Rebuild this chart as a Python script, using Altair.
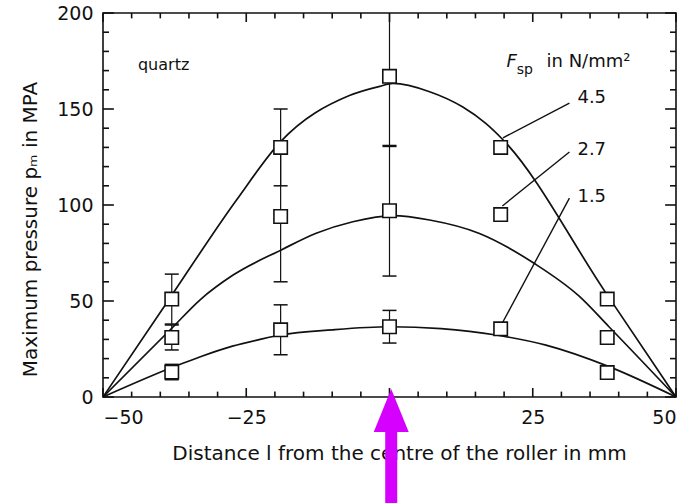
import altair as alt
import pandas as pd

# Measurement positions along the roller (mm) and mean maximum pressure (MPa)
x_meas = [-38, -19, 0, 19.4, 38]
p_45 = [51, 130, 167, 130, 51]
p_27 = [31, 94, 97, 95, 31]
p_15 = [13, 35, 36.6, 35.5, 12.7]
# half-width of the scatter band at each position (0 = no band drawn)
e_45 = [13, 20, 36.5, 0, 0]
e_27 = [6.5, 34, 34, 0, 0]
e_15 = [4, 13, 8.5, 0, 0]
series = ["4.5", "2.7", "1.5"]

# Hand-fitted pressure curves
c45_x = [-50, -38.9, -26.7, -19, -7, -1.7, 0.6, 7, 12.8, 16.8, 19.8, 37.7, 50]
c45_y = [0, 49, 102.6, 133, 157, 161.8, 163.3, 159, 151, 142.5, 134, 54.5, 0]
c27_x = [-50, -38, -33.1, -27.3, -18.9, -12.8, -6.4, 0.6, 7, 15.7, 25.3, 33.1, 38.3, 50]
c27_y = [0, 35.8, 50.5, 63.5, 76.6, 85.3, 91.3, 94.5, 92.2, 85.2, 69.5, 52.5, 36.6, 0]
c15_x = [-50, -37, -33, -27.4, -22.6, -19, -10, 0, 9, 18.6, 27.3, 38.3, 50]
c15_y = [0, 16.5, 21, 26.5, 30, 32.3, 35, 36.6, 35.6, 32.3, 27, 15.8, 0]

# Label leader lines (label end -> point) and label anchors
lead_x1 = [31.4, 31.4, 31.4]
lead_y1 = [153, 127.6, 103.6]
lead_x2 = [19.8, 19.7, 19.5]
lead_y2 = [135, 99.5, 37.5]
lab_x = [32.8, 32.8, 32.8]
lab_y = [155.7, 128.6, 104]

# Axis ticks (drawn pointing into the frame)
x_major = [-50, -25, 0, 25, 50]
x_minor = [-45, -40, -35, -30, -20, -15, -10, -5, 5, 10, 15, 20, 30, 35, 40, 45]
y_major = [0, 50, 100, 150, 200]
y_minor = [10, 20, 30, 40, 60, 70, 80, 90, 110, 120, 130, 140, 160, 170, 180, 190]

# Pointer arrow at the roller centre
arrow_x = [0.3]
arrow_head_y = [-7]
arrow_shaft_top = [-17]
arrow_shaft_bottom = [-62]

FONT = "DejaVu Sans"
INK = "#111111"
PINK = "#d600ff"
X0, X1, Y0, Y1 = -50, 50, 0, 200

# inward tick lengths in axis units (y: 1.92 px/unit, x: 5.73 px/unit)
XT_MAJ, XT_MIN = 4.7, 2.8
YT_MAJ, YT_MIN = 1.9, 1.05

pts = pd.DataFrame(
    [
        {"x": x, "p": p, "e": e, "series": s}
        for s, ps, es in zip(series, [p_45, p_27, p_15], [e_45, e_27, e_15])
        for x, p, e in zip(x_meas, ps, es)
    ]
)
bars = pts[pts["e"] > 0].copy()
bars["lo"] = bars["p"] - bars["e"]
bars["hi"] = bars["p"] + bars["e"]
caps = pd.concat(
    [bars[["x", "series"]].assign(y=bars["lo"]), bars[["x", "series"]].assign(y=bars["hi"])]
)
caps = caps[caps["y"] <= Y1]

curves = pd.DataFrame(
    [
        {"x": x, "y": y, "series": s}
        for s, xs_, ys_ in zip(series, [c45_x, c27_x, c15_x], [c45_y, c27_y, c15_y])
        for x, y in zip(xs_, ys_)
    ]
)
labels = pd.DataFrame({"x": lab_x, "y": lab_y, "t": series})
leads = pd.DataFrame({"x": lead_x1, "y": lead_y1, "x2": lead_x2, "y2": lead_y2})
arrow = pd.DataFrame(
    {"x": arrow_x, "hy": arrow_head_y, "y": arrow_shaft_top, "y2": arrow_shaft_bottom}
)

# frame ticks as two-point paths, one path per tick
tick_rows = []


def add_tick(key, p0, p1):
    tick_rows.append({"tid": key, "o": 0, "x": p0[0], "y": p0[1]})
    tick_rows.append({"tid": key, "o": 1, "x": p1[0], "y": p1[1]})


for v in x_major:
    add_tick(f"b{v}", (v, Y0), (v, Y0 + XT_MAJ))
    add_tick(f"t{v}", (v, Y1), (v, Y1 - XT_MAJ))
for v in x_minor:
    add_tick(f"b{v}", (v, Y0), (v, Y0 + XT_MIN))
    add_tick(f"t{v}", (v, Y1), (v, Y1 - XT_MIN))
for v in y_major:
    add_tick(f"l{v}", (X0, v), (X0 + YT_MAJ, v))
    add_tick(f"r{v}", (X1, v), (X1 - YT_MAJ, v))
for v in y_minor:
    add_tick(f"l{v}", (X0, v), (X0 + YT_MIN, v))
    add_tick(f"r{v}", (X1, v), (X1 - YT_MIN, v))
tick_paths = pd.DataFrame(tick_rows)

xs = alt.Scale(domain=[X0, X1], nice=False, zero=False)
ys = alt.Scale(domain=[Y0, Y1], nice=False, zero=False)
X = alt.X("x:Q", scale=xs, axis=None)
Y = alt.Y("y:Q", scale=ys, axis=None)

lines = alt.Chart(curves).mark_line(
    interpolate="monotone", color=INK, strokeWidth=1.7
).encode(
    x=alt.X("x:Q", scale=xs, axis=alt.Axis(
        orient="bottom", values=x_major, ticks=False, domain=False, grid=False,
        labelPadding=11, labelFontSize=19, labelFont=FONT, labelColor=INK,
        title="Distance l from the centre of the roller in mm",
        titleFont=FONT, titleFontSize=20, titleFontWeight="normal", titleColor=INK,
        titlePadding=16, titleX=296,
    )),
    y=alt.Y("y:Q", scale=ys, axis=alt.Axis(
        orient="left", values=y_major, ticks=False, domain=False, grid=False,
        labelPadding=10, labelFontSize=19, labelFont=FONT, labelColor=INK,
        title="Maximum pressure pₘ in MPA",
        titleFont=FONT, titleFontSize=20, titleFontWeight="normal", titleColor=INK,
        titlePadding=16, titleY=216,
    )),
    detail="series:N",
)

ticks = alt.Chart(tick_paths).mark_line(color=INK, strokeWidth=1.6).encode(
    x=X, y=Y, detail="tid:N", order="o:Q",
)

lead = alt.Chart(leads).mark_rule(color=INK, strokeWidth=1.4).encode(
    x=X, y=Y, x2="x2:Q", y2="y2:Q",
)

err = alt.Chart(bars).mark_rule(color=INK, strokeWidth=1.2, clip=True).encode(
    x=X, y=alt.Y("lo:Q", scale=ys, axis=None), y2="hi:Q",
)

cap = alt.Chart(caps).mark_tick(
    orient="horizontal", color=INK, size=14, thickness=1.5, opacity=1, clip=True
).encode(x=X, y=Y)

squares = alt.Chart(pts).mark_point(
    shape="square", size=180, filled=True, fill="white", stroke=INK,
    strokeWidth=1.6, opacity=1,
).encode(x=X, y=alt.Y("p:Q", scale=ys, axis=None))

series_text = alt.Chart(labels).mark_text(
    align="left", baseline="middle", font=FONT, fontSize=18, color=INK
).encode(x=X, y=Y, text="t:N")

notes = pd.DataFrame(
    [
        {"x": -43.9, "y": 173, "t": "quartz", "size": 16, "style": "normal"},
        {"x": 20.4, "y": 174.5, "t": "F", "size": 18, "style": "italic"},
        {"x": 22.2, "y": 170.3, "t": "sp", "size": 14, "style": "normal"},
        {"x": 27.4, "y": 174.5, "t": "in N/mm²", "size": 18, "style": "normal"},
    ]
)
note_layers = [
    alt.Chart(notes.iloc[[i]]).mark_text(
        align="left", baseline="middle", font=FONT, fontSize=int(r["size"]),
        fontStyle=r["style"], color=INK,
    ).encode(x=X, y=Y, text="t:N")
    for i, r in notes.iterrows()
]

shaft = alt.Chart(arrow).mark_rule(color=PINK, strokeWidth=12).encode(
    x=X, y=Y, y2="y2:Q",
)
head = alt.Chart(arrow).mark_point(
    shape="M0,-1.23L1,1.23L-1,1.23Z", size=1225, filled=True, color=PINK, opacity=1
).encode(x=X, y=alt.Y("hy:Q", scale=ys, axis=None))

chart = alt.layer(
    lines, ticks, lead, err, cap, squares, series_text, *note_layers, shaft, head
).resolve_axis(
    x="independent", y="independent"
).properties(
    width=573,
    height=384,
    autosize=alt.AutoSizeParams(type="none"),
    padding={"left": 103, "top": 13, "right": 16, "bottom": 106},
    background="white",
).configure_view(
    stroke=INK, strokeWidth=1.6
)

chart.save("out.html", embed_options={"renderer": "svg", "actions": False})
